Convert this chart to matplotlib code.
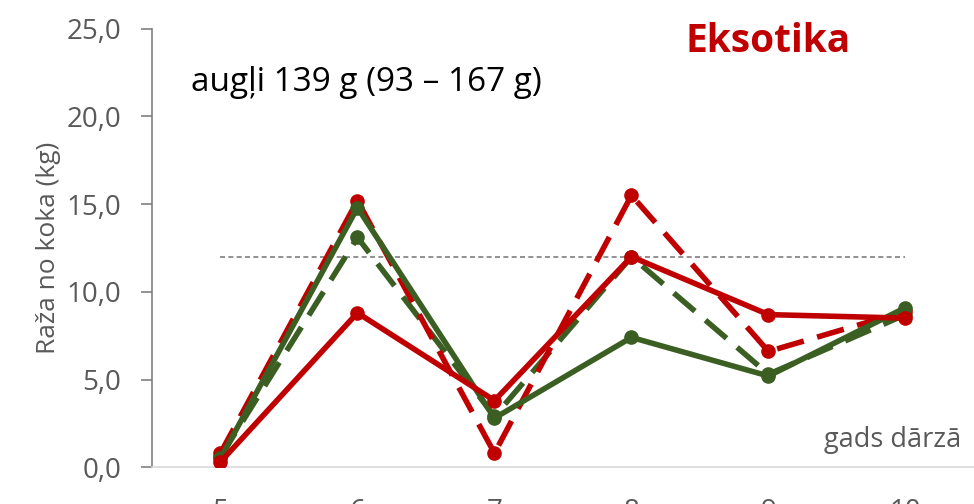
import matplotlib
matplotlib.use('Agg')
import matplotlib.pyplot as plt
from matplotlib.ticker import FuncFormatter

plt.rcParams['font.family'] = ['Open Sans', 'DejaVu Sans']

# gads dārzā
gadi = [5, 6, 7, 8, 9, 10]
zals_pilna = [0.5, 14.8, 2.8, 7.4, 5.2, 9.1]
zals_rauts = [0.6, 13.1, 2.9, 12.0, 5.3, 8.7]
sark_pilna = [0.3, 8.8, 3.8, 12.0, 8.7, 8.5]
sark_rauts = [0.8, 15.2, 0.8, 15.5, 6.6, 8.9]
vid_limenis = 12.0

zals = '#3B5E22'
sark = '#C00000'
peleks = '#595959'

fig = plt.figure(figsize=(9.74, 5.04), dpi=100)
ax = fig.add_axes([0.156, 0.073, 0.844, 0.870])

ax.plot([5, 10], [vid_limenis, vid_limenis], ls=(0, (3, 2)), color='#7F7F7F', lw=1.2, zorder=1)

ax.plot(gadi, zals_rauts, color=zals, lw=4, ls=(0, (5, 2.5)), marker='o', ms=9.5, zorder=2)
ax.plot(gadi, sark_rauts, color=sark, lw=4, ls=(0, (5, 2.5)), marker='o', ms=9.5, zorder=3)
ax.plot(gadi, zals_pilna, color=zals, lw=4, marker='o', ms=9.5, zorder=4)
ax.plot(gadi, sark_pilna, color=sark, lw=4, marker='o', ms=9.5, zorder=5)

ax.set_xlim(4.5, 10.5)
ax.set_ylim(0, 25)
ax.set_yticks([0, 5, 10, 15, 20, 25])
ax.yaxis.set_major_formatter(FuncFormatter(lambda v, p: f'{v:.1f}'.replace('.', ',')))
ax.set_xticks(gadi)

for s in ['top', 'right']:
    ax.spines[s].set_visible(False)
ax.spines['left'].set_color('#808080')
ax.spines['left'].set_linewidth(1.2)
ax.spines['bottom'].set_color('#D9D9D9')
ax.spines['bottom'].set_linewidth(1.2)

ax.tick_params(axis='y', colors='#808080', labelcolor=peleks, labelsize=20, length=8, width=1.2, pad=14)
ax.tick_params(axis='x', length=0, labelcolor=peleks, labelsize=20, pad=22)

ax.set_ylabel('Raža no koka (kg)', color=peleks, fontsize=19, labelpad=4)

ax.text(0.75, 1.015, 'Eksotika', transform=ax.transAxes, ha='center', va='top',
        color=sark, fontsize=28, fontweight='bold')
ax.text(0.048, 0.915, 'augļi 139 g (93 – 167 g)', transform=ax.transAxes, ha='left', va='top',
        color='black', fontsize=24)
ax.text(0.985, 0.03, 'gads dārzā', transform=ax.transAxes, ha='right', va='bottom',
        color=peleks, fontsize=19.5)

fig.savefig('out.png', dpi=100)
